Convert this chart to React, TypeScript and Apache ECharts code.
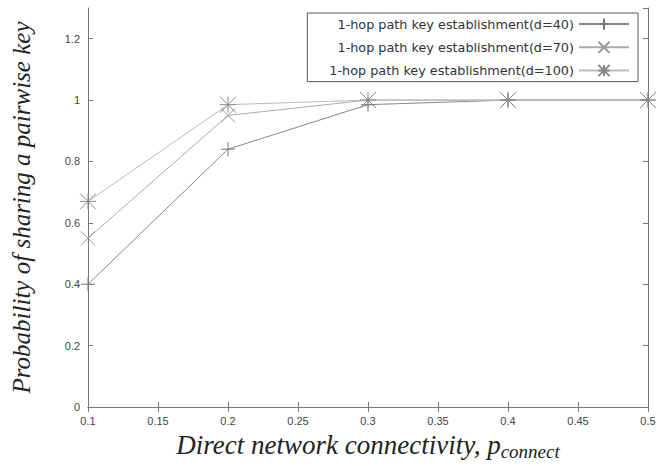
import React, { useEffect, useRef } from "react";
import * as echarts from "echarts";

const xValues = [0.1, 0.2, 0.3, 0.4, 0.5];
const seriesNames = [
  "1-hop path key establishment(d=40)",
  "1-hop path key establishment(d=70)",
  "1-hop path key establishment(d=100)",
];
const d40 = [0.4, 0.84, 0.985, 1.0, 1.0];
const d70 = [0.55, 0.95, 1.0, 1.0, 1.0];
const d100 = [0.67, 0.985, 1.0, 1.0, 1.0];

const PLUS = "path://M0,5L10,5M5,0L5,10";
const CROSS = "path://M0,0L10,10M10,0L0,10";
const STAR = "path://M0,0L10,10M10,0L0,10M5,0L5,10M0,5L10,5";

export default function App() {
  const ref = useRef<HTMLDivElement>(null);
  useEffect(() => {
    const chart = echarts.init(ref.current!, undefined, { renderer: "svg" });
    const mk = (name: string, data: number[], symbol: string, size: number, color: string, lineColor: string) => ({
      name,
      type: "line",
      data: xValues.map((x, i) => [x, data[i]]),
      symbol,
      symbolSize: size,
      showAllSymbol: true,
      lineStyle: { color: lineColor, width: 1 },
      itemStyle: { color: "none", borderColor: color, borderWidth: 1 },
      emphasis: { disabled: true },
    });
    const frame = "#777";
    chart.setOption({
      animation: false,
      backgroundColor: "#fff",
      grid: { left: 88, right: 24, top: 8, bottom: 59, containLabel: false },
      legend: {
        right: 34,
        top: 13,
        orient: "vertical",
        align: "right",
        itemWidth: 50,
        itemHeight: 14,
        itemGap: 7,
        padding: [3, 8, 3, 22],
        borderColor: "#555",
        borderWidth: 1,
        textStyle: { fontFamily: "DejaVu Sans", fontSize: 12.8, color: "#333" },
        data: seriesNames,
      },
      xAxis: [
        {
          type: "value",
          min: 0.1,
          max: 0.5,
          interval: 0.05,
          position: "bottom",
          name: "{a|Direct network connectivity, p}{b|connect}",
          nameLocation: "middle",
          nameGap: 22,
          nameTextStyle: {
            rich: {
              a: { fontFamily: "Liberation Serif, Times New Roman", fontStyle: "italic", fontSize: 27, color: "#222" },
              b: { fontFamily: "Liberation Serif, Times New Roman", fontStyle: "italic", fontSize: 19, color: "#222", padding: [13, 0, 0, 0] },
            },
          },
          axisLine: { show: true, lineStyle: { color: frame } },
          axisTick: { show: true, inside: true, length: 5, lineStyle: { color: frame } },
          axisLabel: { fontFamily: "Liberation Sans, Arial", fontSize: 11, color: "#444", margin: 8 },
          splitLine: { show: false },
        },
        {
          type: "value",
          min: 0.1,
          max: 0.5,
          interval: 0.05,
          position: "top",
          axisLine: { show: true, lineStyle: { color: frame } },
          axisTick: { show: true, inside: true, length: 5, lineStyle: { color: frame } },
          axisLabel: { show: false },
          splitLine: { show: false },
        },
      ],
      yAxis: [
        {
          type: "value",
          min: 0,
          max: 1.3,
          interval: 0.2,
          position: "left",
          name: "Probability of sharing a pairwise key",
          nameLocation: "middle",
          nameGap: 54,
          nameTextStyle: { fontFamily: "Liberation Serif, Times New Roman", fontStyle: "italic", fontSize: 25, color: "#222" },
          axisLine: { show: true, lineStyle: { color: frame } },
          axisTick: { show: true, inside: true, length: 5, lineStyle: { color: frame } },
          axisLabel: { fontFamily: "Liberation Sans, Arial", fontSize: 11, color: "#444", margin: 8, showMaxLabel: false },
          splitLine: { show: false },
        },
        {
          type: "value",
          min: 0,
          max: 1.3,
          interval: 0.2,
          position: "right",
          axisLine: { show: true, lineStyle: { color: frame } },
          axisTick: { show: true, inside: true, length: 5, lineStyle: { color: frame } },
          axisLabel: { show: false },
          splitLine: { show: false },
        },
      ],
      series: [
        mk(seriesNames[0], d40, PLUS, 14, "#777", "#888"),
        mk(seriesNames[1], d70, CROSS, 14, "#999", "#aaa"),
        mk(seriesNames[2], d100, STAR, 16, "#888", "#bbb"),
      ],
    });
    return () => chart.dispose();
  }, []);
  return <div ref={ref} style={{ width: 672, height: 466, position: "absolute", left: 0, top: 0 }} />;
}
